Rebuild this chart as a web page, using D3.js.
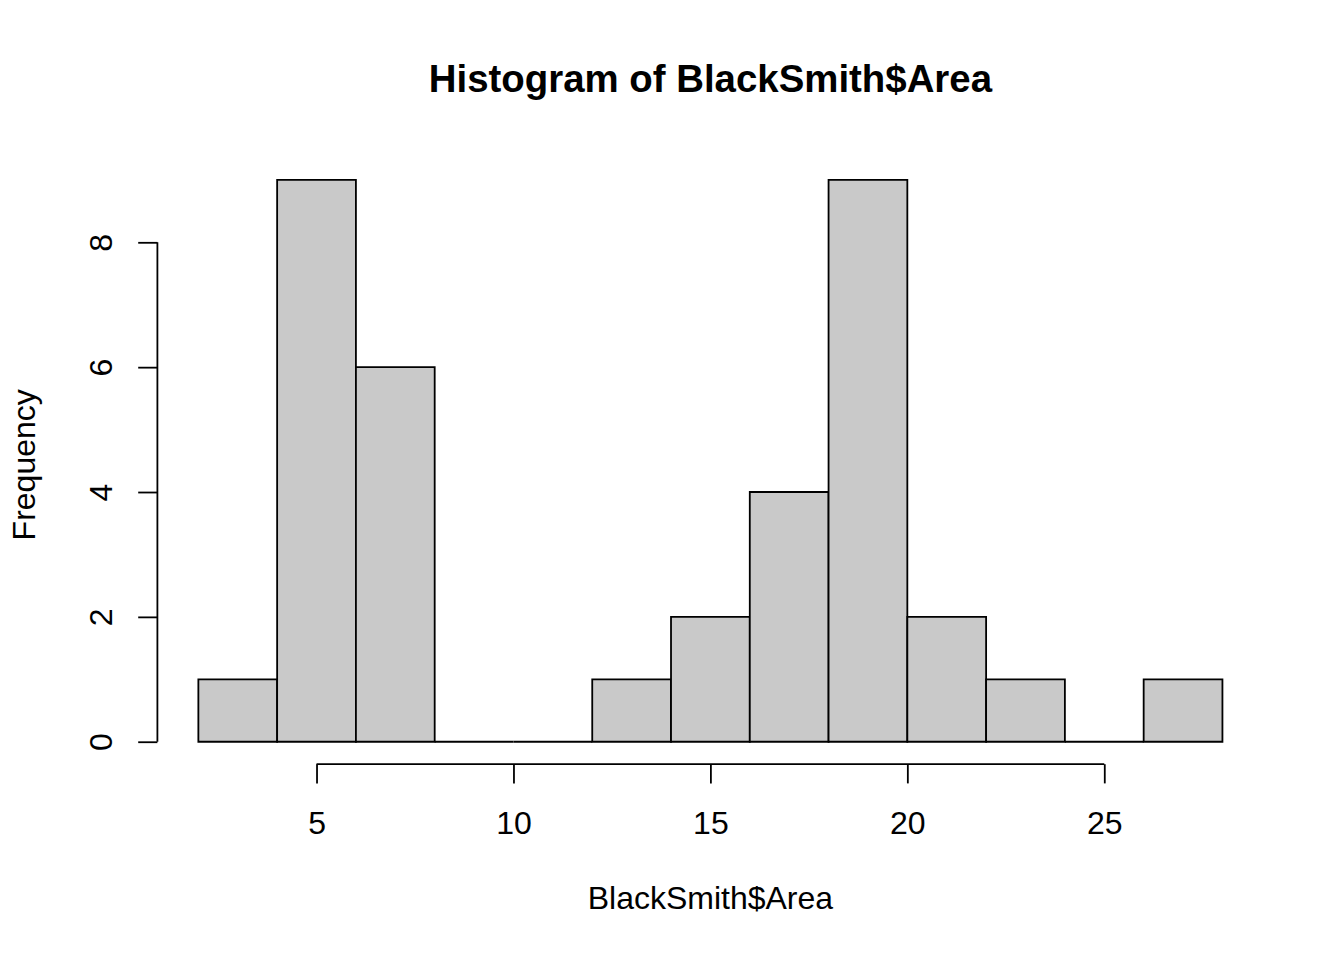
<!DOCTYPE html>
<html>
<head>
<meta charset="utf-8">
<script src="https://cdn.jsdelivr.net/npm/d3@7"></script>
<style>
  html, body { margin: 0; padding: 0; background: #fff; }
  svg { display: block; }
  text { font-family: "Liberation Sans", Arial, Helvetica, sans-serif; fill: #000; }
</style>
</head>
<body>
<svg id="chart" width="1344" height="960"></svg>
<script>
// Data
const binStarts = [2, 4, 6, 8, 10, 12, 14, 16, 18, 20, 22, 24, 26];
const binEnds   = [4, 6, 8, 10, 12, 14, 16, 18, 20, 22, 24, 26, 28];
const counts    = [1, 9, 6, 0, 0, 1, 2, 4, 9, 2, 1, 0, 1];
const xTicks = [5, 10, 15, 20, 25];
const yTicks = [0, 2, 4, 6, 8];
const titleText = "Histogram of BlackSmith$Area";
const xLabel = "BlackSmith$Area";
const yLabel = "Frequency";

const W = 1344, H = 960;
const plotLeft = 157.4, plotRight = 1263.4, plotTop = 157.4, plotBottom = 764.2;
const lw = 1.8;

const svg = d3.select("#chart");

// R-style 4% range extension
const xmin = d3.min(binStarts), xmax = d3.max(binEnds);
const xpad = (xmax - xmin) * 0.04;
const ymax = d3.max(counts);
const ypad = ymax * 0.04;

const x = d3.scaleLinear().domain([xmin - xpad, xmax + xpad]).range([plotLeft, plotRight]);
const y = d3.scaleLinear().domain([-ypad, ymax + ypad]).range([plotBottom, plotTop]);

// Bars (as paths so zero-height bins still draw a line)
const bars = binStarts.map((s, i) => ({ x0: s, x1: binEnds[i], c: counts[i] }));
svg.append("g").selectAll("path").data(bars).join("path")
  .attr("d", d => {
    const x0 = x(d.x0), x1 = x(d.x1), y0 = y(0), y1 = y(d.c);
    return `M${x0},${y0}V${y1}H${x1}V${y0}Z`;
  })
  .attr("fill", "#c9c9c9")
  .attr("stroke", "#000")
  .attr("stroke-width", lw)
  .attr("stroke-linejoin", "miter");

const tickLen = 19.2;

// X axis
const xAxisY = plotBottom;
const gx = svg.append("g").attr("transform", `translate(0,${xAxisY})`)
  .call(d3.axisBottom(x).tickValues(xTicks).tickSize(tickLen).tickSizeOuter(0).tickFormat(d3.format("d")));
gx.select(".domain").remove();
gx.append("line")
  .attr("x1", x(d3.min(xTicks))).attr("x2", x(d3.max(xTicks)))
  .attr("y1", 0).attr("y2", 0)
  .attr("stroke", "#000").attr("stroke-width", lw);
gx.selectAll(".tick line").attr("stroke", "#000").attr("stroke-width", lw);
gx.selectAll(".tick text")
  .attr("y", 834 - xAxisY).attr("dy", null)
  .attr("font-size", 32).attr("fill", "#000")
  .style("font-family", "'Liberation Sans', Arial, sans-serif");
gx.attr("font-size", null).attr("font-family", null);

// Y axis
const gy = svg.append("g").attr("transform", `translate(${plotLeft},0)`)
  .call(d3.axisLeft(y).tickValues(yTicks).tickSize(tickLen).tickSizeOuter(0).tickFormat(d3.format("d")));
gy.select(".domain").remove();
gy.append("line")
  .attr("x1", 0).attr("x2", 0)
  .attr("y1", y(d3.min(yTicks))).attr("y2", y(d3.max(yTicks)))
  .attr("stroke", "#000").attr("stroke-width", lw);
gy.selectAll(".tick line").attr("stroke", "#000").attr("stroke-width", lw);
gy.selectAll(".tick text")
  .attr("x", null).attr("dy", null)
  .attr("text-anchor", "middle")
  .attr("transform", `translate(${111.7 - plotLeft},0) rotate(-90)`)
  .attr("font-size", 32).attr("fill", "#000")
  .style("font-family", "'Liberation Sans', Arial, sans-serif");
gy.attr("font-size", null).attr("font-family", null);

// Title
svg.append("text")
  .attr("x", (plotLeft + plotRight) / 2).attr("y", 92)
  .attr("text-anchor", "middle")
  .attr("font-size", 38.4).attr("font-weight", "bold")
  .text(titleText);

// X label
svg.append("text")
  .attr("x", (plotLeft + plotRight) / 2).attr("y", 909)
  .attr("text-anchor", "middle")
  .attr("font-size", 32)
  .text(xLabel);

// Y label
svg.append("text")
  .attr("transform", `translate(35,${(plotTop + plotBottom) / 2 + 4}) rotate(-90)`)
  .attr("text-anchor", "middle")
  .attr("font-size", 32)
  .text(yLabel);
</script>
</body>
</html>
